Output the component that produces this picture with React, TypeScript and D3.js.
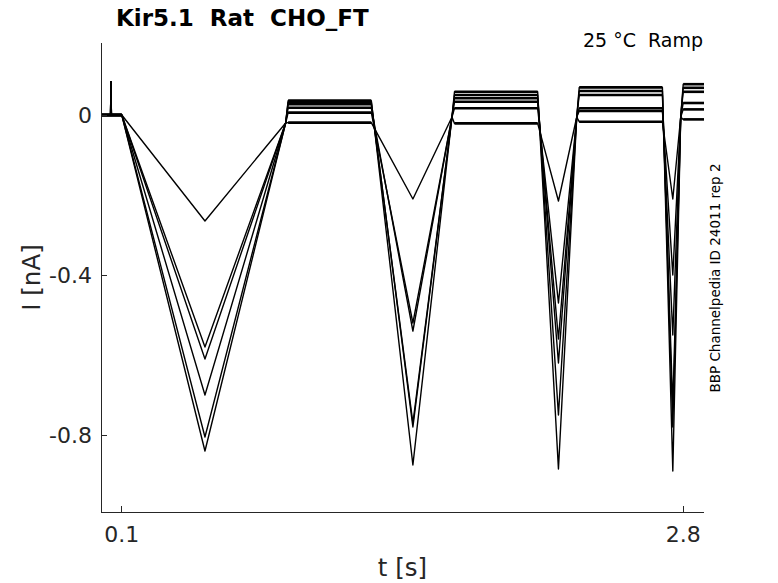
import * as d3 from "d3";

// protocol timing (s): each ramp goes down to its minimum and back up
const rampStart = [0.1, 1.3, 2.1, 2.7];
const rampMin = [0.5, 1.5, 2.2, 2.75];
const rampEnd = [0.9, 1.7, 2.3, 2.8];
const tEnd = 2.9;
const spikeT = 0.048;
const spikeI = 0.083;

// peak current (nA) at the bottom of each ramp, one row per sweep
const peaks = [
  [-0.265, -0.21, -0.215, -0.21],
  [-0.58, -0.52, -0.47, -0.4],
  [-0.61, -0.54, -0.56, -0.55],
  [-0.7, -0.77, -0.62, -0.73],
  [-0.805, -0.78, -0.75, -0.78],
  [-0.84, -0.875, -0.885, -0.89],
];

// plateau level (nA) after each ramp, one row per sweep
const plateaus = [
  [-0.019, -0.021, -0.017, -0.011],
  [0.006, 0.017, 0.01, 0.014],
  [0.018, 0.033, 0.017, 0.03],
  [0.027, 0.042, 0.05, 0.058],
  [0.032, 0.05, 0.06, 0.068],
  [0.036, 0.058, 0.069, 0.077],
];

// current reached at the top of each up-ramp, just before the plateau
const rampTop = [-0.02, -0.005, -0.005, -0.005];

const yTicks = [0, -0.4, -0.8];
const xTicks = [0.1, 2.8];

const W = 778;
const H = 583;
const left = 101;
const right = 704;
const top = 43;
const bottom = 512;

const FONT = "DejaVu Sans";
const INK = "#262626";

export default function App() {
  const x = d3.scaleLinear().domain([0, tEnd]).range([left, right]);
  const y = d3.scaleLinear().domain([-0.9925, 0.18]).range([bottom, top]);

  const line = d3
    .line<[number, number]>()
    .x((d) => x(d[0]))
    .y((d) => y(d[1]));

  const sweeps = peaks.map((pk, s) => {
    const pts: [number, number][] = [
      [0, 0],
      [spikeT - 0.002, 0],
      [spikeT, spikeI],
      [spikeT + 0.002, 0],
    ];
    let level = 0;
    rampStart.forEach((t0, r) => {
      pts.push([t0, level]);
      pts.push([rampMin[r], pk[r]]);
      pts.push([rampEnd[r] - 0.012, rampTop[r]]);
      level = plateaus[s][r];
      pts.push([rampEnd[r], level]);
    });
    pts.push([tEnd, level]);
    return pts;
  });

  // flat holding segments (baseline + plateaus), drawn a bit heavier like the noisy record
  const holds: [number, number][][] = [];
  peaks.forEach((_, s) => {
    holds.push([
      [0, 0],
      [rampStart[0], 0],
    ]);
    rampEnd.forEach((t0, r) => {
      const t1 = r + 1 < rampStart.length ? rampStart[r + 1] : tEnd;
      holds.push([
        [t0, plateaus[s][r]],
        [t1, plateaus[s][r]],
      ]);
    });
  });

  return (
    <svg
      width={W}
      height={H}
      style={{ position: "absolute", left: 0, top: 0, background: "#fff" }}
      fontFamily={FONT}
    >
      <rect width={W} height={H} fill="#fff" />

      <g fill="none" stroke="#000" strokeWidth={1.4} strokeLinejoin="round">
        {sweeps.map((pts, i) => (
          <path key={i} d={line(pts) ?? ""} />
        ))}
      </g>
      <g fill="none" stroke="#000" strokeWidth={2.6}>
        {holds.map((pts, i) => (
          <path key={i} d={line(pts) ?? ""} />
        ))}
      </g>

      {/* axes */}
      <g stroke={INK} strokeWidth={1} shapeRendering="crispEdges">
        <line x1={left} x2={left} y1={top} y2={bottom} />
        <line x1={left} x2={right} y1={bottom} y2={bottom} />
        {yTicks.map((t) => (
          <line key={t} x1={left} x2={left + 6} y1={y(t)} y2={y(t)} />
        ))}
        {xTicks.map((t) => (
          <line key={t} x1={x(t)} x2={x(t)} y1={bottom} y2={bottom - 6} />
        ))}
      </g>

      <g fill={INK} fontSize={22}>
        {yTicks.map((t) => (
          <text key={t} x={left - 9} y={y(t)} dy="0.36em" textAnchor="end">
            {t === 0 ? "0" : String(t)}
          </text>
        ))}
        {xTicks.map((t) => (
          <text key={t} x={x(t)} y={bottom + 30} textAnchor="middle">
            {String(t)}
          </text>
        ))}
      </g>

      <text x={(left + right) / 2} y={576} fontSize={24.5} fill={INK} textAnchor="middle">
        t [s]
      </text>
      <text
        transform={`translate(40,${(top + bottom) / 2}) rotate(-90)`}
        fontSize={24.5}
        fill={INK}
        textAnchor="middle"
      >
        I [nA]
      </text>

      <text x={116} y={26} fontSize={23} fontWeight="bold" fill="#000" style={{ whiteSpace: "pre" }}>
        Kir5.1  Rat  CHO_FT
      </text>
      <text x={703} y={47} fontSize={19} fill="#000" textAnchor="end" style={{ whiteSpace: "pre" }}>
        25 °C  Ramp
      </text>
      <text
        transform={`translate(720,${278}) rotate(-90)`}
        fontSize={13.5}
        fill="#000"
        textAnchor="middle"
      >
        BBP Channelpedia ID 24011 rep 2
      </text>
    </svg>
  );
}
